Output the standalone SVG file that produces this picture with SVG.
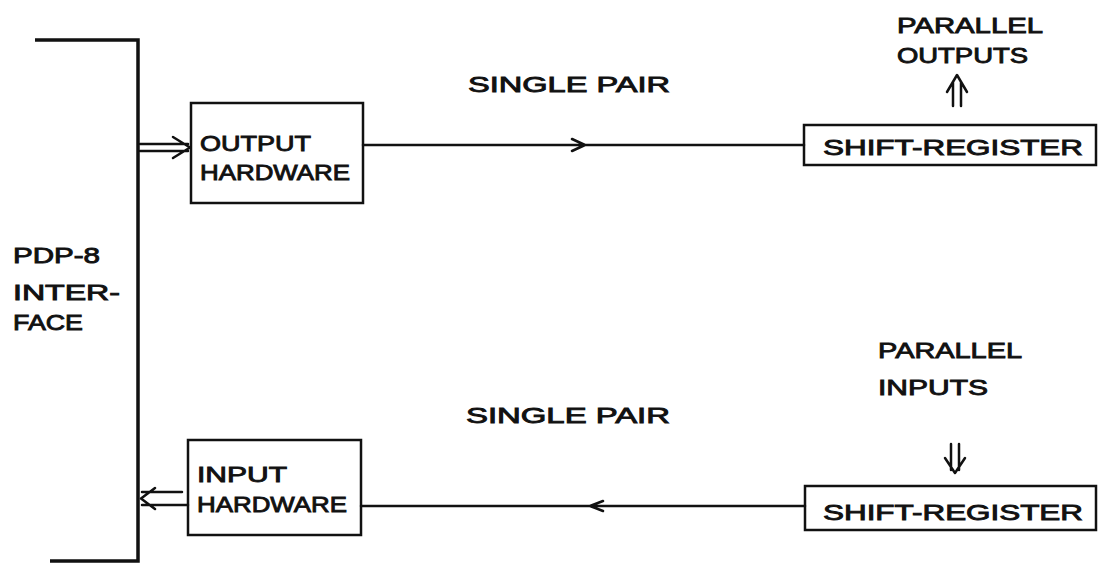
<svg xmlns="http://www.w3.org/2000/svg" width="1098" height="564" viewBox="0 0 1098 564">
<style>
text{font-family:"Liberation Sans",Arial,sans-serif;font-size:22px;fill:#111;font-weight:normal;stroke:#111;stroke-width:0.9}
.box{fill:#fff;stroke:#111;stroke-width:2.5}
.ln{fill:none;stroke:#111;stroke-width:2.5;stroke-linecap:round;stroke-linejoin:round}
.bar{fill:none;stroke:#111;stroke-width:3.5}
</style>
<rect width="1098" height="564" fill="#fff"/>
<g id="pdp8-interface">
<path class="bar" d="M35 40 H138 V561 H50"/>
<text x="13" y="263" textLength="87" lengthAdjust="spacingAndGlyphs">PDP-8</text>
<text x="13" y="300" textLength="107" lengthAdjust="spacingAndGlyphs">INTER-</text>
<text x="13" y="330" textLength="70" lengthAdjust="spacingAndGlyphs">FACE</text>
</g>
<g id="output-hardware">
<rect class="box" x="191" y="103" width="172" height="100"/>
<text x="200" y="151" textLength="111" lengthAdjust="spacingAndGlyphs">OUTPUT</text>
<text x="200" y="180" textLength="150" lengthAdjust="spacingAndGlyphs">HARDWARE</text>
</g>
<g id="input-hardware">
<rect class="box" x="188" y="440" width="173" height="95"/>
<text x="197" y="482" textLength="90" lengthAdjust="spacingAndGlyphs">INPUT</text>
<text x="197" y="512" textLength="150" lengthAdjust="spacingAndGlyphs">HARDWARE</text>
</g>
<g id="shift-register-out">
<rect class="box" x="804" y="125" width="292" height="40"/>
<text x="823" y="155" textLength="260" lengthAdjust="spacingAndGlyphs">SHIFT-REGISTER</text>
</g>
<g id="shift-register-in">
<rect class="box" x="805" y="486" width="291" height="44"/>
<text x="823" y="520" textLength="260" lengthAdjust="spacingAndGlyphs">SHIFT-REGISTER</text>
</g>
<g id="labels">
<text x="897" y="33" textLength="146" lengthAdjust="spacingAndGlyphs">PARALLEL</text>
<text x="897" y="63" textLength="131" lengthAdjust="spacingAndGlyphs">OUTPUTS</text>
<text x="878" y="358" textLength="144" lengthAdjust="spacingAndGlyphs">PARALLEL</text>
<text x="878" y="395" textLength="110" lengthAdjust="spacingAndGlyphs">INPUTS</text>
<text x="468" y="92" textLength="202" lengthAdjust="spacingAndGlyphs">SINGLE PAIR</text>
<text x="466" y="423" textLength="204" lengthAdjust="spacingAndGlyphs">SINGLE PAIR</text>
</g>
<g id="connectors">
<path class="ln" d="M140 144 H188 M140 151 H188 M173 137 L190 147.5 L173 158"/>
<path class="ln" d="M363 145 H804 M572 139 L585 145 L572 151"/>
<path class="ln" d="M953 106 V82 M961 106 V82 M947 92 L957 75 L967 92"/>
<path class="ln" d="M951 444 V470 M959 444 V470 M945 458 L955 473 L965 458"/>
<path class="ln" d="M361 506 H805 M603 501 L590 506 L603 511"/>
<path class="ln" d="M142 492 H182 M142 505 H188 M155 488 L141 498.5 L155 509"/>
</g>
</svg>
